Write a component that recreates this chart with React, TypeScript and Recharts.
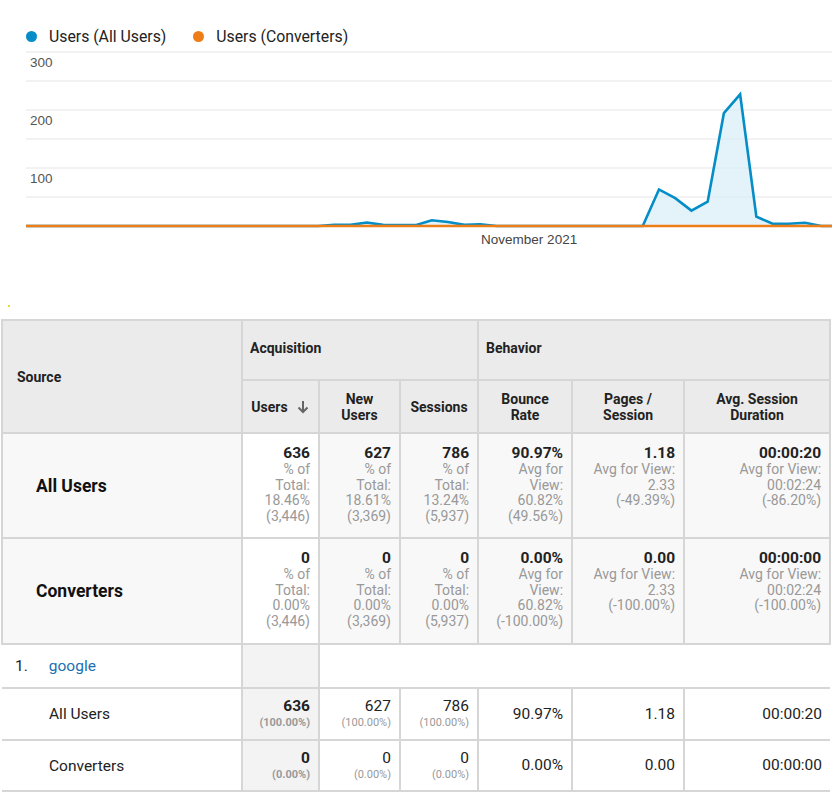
import React from "react";
import { ComposedChart, Area, Line, XAxis, YAxis, CartesianGrid } from "recharts";

const dates = [
  "Oct 1","Oct 2","Oct 3","Oct 4","Oct 5","Oct 6","Oct 7","Oct 8","Oct 9","Oct 10",
  "Oct 11","Oct 12","Oct 13","Oct 14","Oct 15","Oct 16","Oct 17","Oct 18","Oct 19","Oct 20",
  "Oct 21","Oct 22","Oct 23","Oct 24","Oct 25","Oct 26","Oct 27","Oct 28","Oct 29","Oct 30",
  "Oct 31","Nov 1","Nov 2","Nov 3","Nov 4","Nov 5","Nov 6","Nov 7","Nov 8","Nov 9",
  "Nov 10","Nov 11","Nov 12","Nov 13","Nov 14","Nov 15","Nov 16","Nov 17","Nov 18","Nov 19",
  "Nov 20",
];
const allUsers = [
  0,0,0,0,0,0,0,0,0,0,
  0,0,0,0,0,0,0,0,0,2,
  2,6,2,1.5,1.5,10,7,2,3,0,
  0,0,0,0,0,0,0,0,0,63,
  48,26.5,42,194.5,227,16,4,4,5.5,0,
  0,
];
const converters = [
  0,0,0,0,0,0,0,0,0,0,
  0,0,0,0,0,0,0,0,0,0,
  0,0,0,0,0,0,0,0,0,0,
  0,0,0,0,0,0,0,0,0,0,
  0,0,0,0,0,0,0,0,0,0,
  0,
];
const yTicks = [0, 50, 100, 150, 200, 250, 300];
const yLabelTicks = [100, 200, 300];
const xTickLabels: Record<string, string> = { "Nov 1": "November 2021" };
const seriesNames = ["Users (All Users)", "Users (Converters)"];

const BLUE = "#058dc7";
const ORANGE = "#ed7e17";

const data = dates.map((d, i) => ({ date: d, all: allUsers[i], conv: converters[i] }));

const YTick = (props: any) => {
  const { y, payload } = props;
  if (!yLabelTicks.includes(payload.value)) return null;
  return (
    <text x={30} y={y + 15} fontSize={13.5} fill="#555" fontFamily="'Liberation Sans', Arial, sans-serif">
      {payload.value}
    </text>
  );
};

// Table data
const columns = ["Users", "New Users", "Sessions", "Bounce Rate", "Pages / Session", "Avg. Session Duration"];
const colWidths = [240, 77, 81, 78, 94, 112, 146];

const allUsersMain = ["636", "627", "786", "90.97%", "1.18", "00:00:20"];
const allUsersSub = [
  ["% of", "Total:", "18.46%", "(3,446)"],
  ["% of", "Total:", "18.61%", "(3,369)"],
  ["% of", "Total:", "13.24%", "(5,937)"],
  ["Avg for", "View:", "60.82%", "(49.56%)"],
  ["Avg for View:", "2.33", "(-49.39%)"],
  ["Avg for View:", "00:02:24", "(-86.20%)"],
];
const convMain = ["0", "0", "0", "0.00%", "0.00", "00:00:00"];
const convSub = [
  ["% of", "Total:", "0.00%", "(3,446)"],
  ["% of", "Total:", "0.00%", "(3,369)"],
  ["% of", "Total:", "0.00%", "(5,937)"],
  ["Avg for", "View:", "60.82%", "(-100.00%)"],
  ["Avg for View:", "2.33", "(-100.00%)"],
  ["Avg for View:", "00:02:24", "(-100.00%)"],
];
const googleAll = ["636", "627", "786", "90.97%", "1.18", "00:00:20"];
const googleAllPct = ["(100.00%)", "(100.00%)", "(100.00%)"];
const googleConv = ["0", "0", "0", "0.00%", "0.00", "00:00:00"];
const googleConvPct = ["(0.00%)", "(0.00%)", "(0.00%)"];

const BORDER = "2px solid #d6d6d6";
const HEADER_BG = "#ebebeb";

const thBase: React.CSSProperties = {
  background: HEADER_BG,
  border: BORDER,
  fontWeight: 700,
  fontSize: 14,
  color: "#222",
  padding: 0,
  lineHeight: "16px",
};

const SummaryRow = ({ label, main, sub, height }: { label: string; main: string[]; sub: string[][]; height: number }) => (
  <tr style={{ height }}>
    <td style={{ border: BORDER, background: "#f8f8f8", paddingLeft: 33, fontWeight: 700, fontSize: 17.5, color: "#111", verticalAlign: "middle" }}>
      {label}
    </td>
    {main.map((m, i) => (
      <td
        key={i}
        style={{
          border: BORDER,
          background: i === 0 ? "#ffffff" : "#f8f8f8",
          textAlign: "right",
          verticalAlign: "top",
          paddingRight: 8,
          paddingTop: 11,
        }}
      >
        <div style={{ fontWeight: 700, fontSize: 15.5, color: "#222", lineHeight: "17px" }}>{m}</div>
        {sub[i].map((s, j) => (
          <div key={j} style={{ fontSize: 14, color: "#999", lineHeight: "15.7px" }}>{s}</div>
        ))}
      </td>
    ))}
  </tr>
);

const DataRow = ({ label, main, pct, height }: { label: string; main: string[]; pct: string[]; height: number }) => (
  <tr style={{ height }}>
    <td style={{ borderTop: BORDER, borderBottom: BORDER, borderLeft: "none", paddingLeft: 47, fontSize: 15.5, color: "#222", verticalAlign: "middle", background: "#fff" }}>
      {label}
    </td>
    {main.map((m, i) => (
      <td
        key={i}
        style={{
          border: BORDER,
          borderRight: i === main.length - 1 ? "none" : BORDER,
          background: i === 0 ? "#f3f3f3" : "#ffffff",
          textAlign: "right",
          verticalAlign: "middle",
          paddingRight: 8,
        }}
      >
        <div style={{ fontWeight: i === 0 ? 700 : 400, fontSize: 15.5, color: "#222", lineHeight: "17px" }}>{m}</div>
        {i < pct.length && (
          <div style={{ fontSize: 11, color: "#999", lineHeight: "15px", fontWeight: i === 0 ? 700 : 400 }}>{pct[i]}</div>
        )}
      </td>
    ))}
  </tr>
);

export default function App() {
  return (
    <div style={{ position: "relative", width: 832, height: 812, overflow: "hidden", background: "#fff", fontFamily: "Roboto, sans-serif" }}>
      <style>{"body{margin:0;overflow:hidden;}"}</style>
      <div
        style={{
          position: "absolute",
          left: 26,
          top: 26,
          height: 20,
          display: "flex",
          alignItems: "center",
          fontFamily: "Roboto, sans-serif",
          fontSize: 15.8,
          color: "#222",
          whiteSpace: "nowrap",
        }}
      >
        <span style={{ width: 11, height: 11, borderRadius: "50%", background: BLUE, display: "inline-block", marginRight: 12 }} />
        <span style={{ marginRight: 27 }}>{seriesNames[0]}</span>
        <span style={{ width: 11, height: 11, borderRadius: "50%", background: ORANGE, display: "inline-block", marginRight: 12 }} />
        <span>{seriesNames[1]}</span>
      </div>
      <div style={{ position: "absolute", left: 0, top: 0, width: 840, height: 260 }}>
        <ComposedChart width={840} height={260} data={data} margin={{ top: 52, right: 2.5, left: 25, bottom: 4 }}>
          <CartesianGrid vertical={false} stroke="#e6e6e6" strokeWidth={1.2} />
          <XAxis
            dataKey="date"
            scale="point"
            ticks={["Nov 1"]}
            tickFormatter={(v: string) => xTickLabels[v] ?? ""}
            axisLine={false}
            tickLine={false}
            height={30}
            tick={{ fontSize: 13.5, fill: "#444", fontFamily: "'Liberation Sans', Arial, sans-serif" }}
          />
          <YAxis width={1} domain={[0, 300]} ticks={yTicks} axisLine={false} tickLine={false} tick={<YTick />} interval={0} />
          <Area
            type="linear"
            dataKey="all"
            stroke={BLUE}
            strokeWidth={2.6}
            fill="#d6ecf6"
            fillOpacity={0.65}
            dot={false}
            activeDot={false}
            isAnimationActive={false}
            name={seriesNames[0]}
          />
          <Line
            type="linear"
            dataKey="conv"
            stroke={ORANGE}
            strokeWidth={2.6}
            dot={false}
            activeDot={false}
            isAnimationActive={false}
            name={seriesNames[1]}
          />
        </ComposedChart>
      </div>
      <div style={{ position: "absolute", left: 8, top: 305, width: 2, height: 2, background: "#e6c800", borderRadius: 1 }} />
      <table
        style={{
          position: "absolute",
          left: 1,
          top: 319,
          borderCollapse: "collapse",
          tableLayout: "fixed",
          width: 830,
          fontFamily: "Roboto, sans-serif",
        }}
      >
        <colgroup>
          {colWidths.map((w, i) => (
            <col key={i} style={{ width: w }} />
          ))}
        </colgroup>
        <tbody>
          <tr style={{ height: 60 }}>
            <th rowSpan={2} style={{ ...thBase, textAlign: "left", paddingLeft: 14 }}>Source</th>
            <th colSpan={3} style={{ ...thBase, textAlign: "left", paddingLeft: 7, paddingBottom: 4 }}>Acquisition</th>
            <th colSpan={3} style={{ ...thBase, textAlign: "left", paddingLeft: 7, paddingBottom: 4 }}>Behavior</th>
          </tr>
          <tr style={{ height: 53 }}>
            {columns.map((c, i) => (
              <th key={i} style={{ ...thBase, textAlign: "center", padding: "0 4px" }}>
                {i === 0 ? (
                  <span style={{ display: "inline-flex", alignItems: "center" }}>
                    {c}
                    <svg width="14" height="14" viewBox="0 0 14 14" style={{ marginLeft: 8 }}>
                      <path d="M7 1 V12 M2.5 7.5 L7 12 L11.5 7.5" stroke="#666" strokeWidth="2" fill="none" />
                    </svg>
                  </span>
                ) : i === 1 ? (
                  <>New<br />Users</>
                ) : i === 3 ? (
                  <>Bounce<br />Rate</>
                ) : i === 4 ? (
                  <>Pages /<br />Session</>
                ) : i === 5 ? (
                  <>Avg. Session<br />Duration</>
                ) : (
                  c
                )}
              </th>
            ))}
          </tr>
          <SummaryRow label="All Users" main={allUsersMain} sub={allUsersSub} height={105} />
          <SummaryRow label="Converters" main={convMain} sub={convSub} height={106} />
          <tr style={{ height: 44 }}>
            <td style={{ borderTop: BORDER, borderBottom: BORDER, paddingLeft: 13, fontSize: 15.5, color: "#222", background: "#fff" }}>
              1.<span style={{ marginLeft: 21, color: "#1a6fb5" }}>google</span>
            </td>
            <td style={{ border: BORDER, background: "#f3f3f3" }} />
            <td colSpan={5} style={{ borderTop: BORDER, borderBottom: BORDER, background: "#fff" }} />
          </tr>
          <DataRow label="All Users" main={googleAll} pct={googleAllPct} height={52} />
          <DataRow label="Converters" main={googleConv} pct={googleConvPct} height={51} />
        </tbody>
      </table>
    </div>
  );
}
